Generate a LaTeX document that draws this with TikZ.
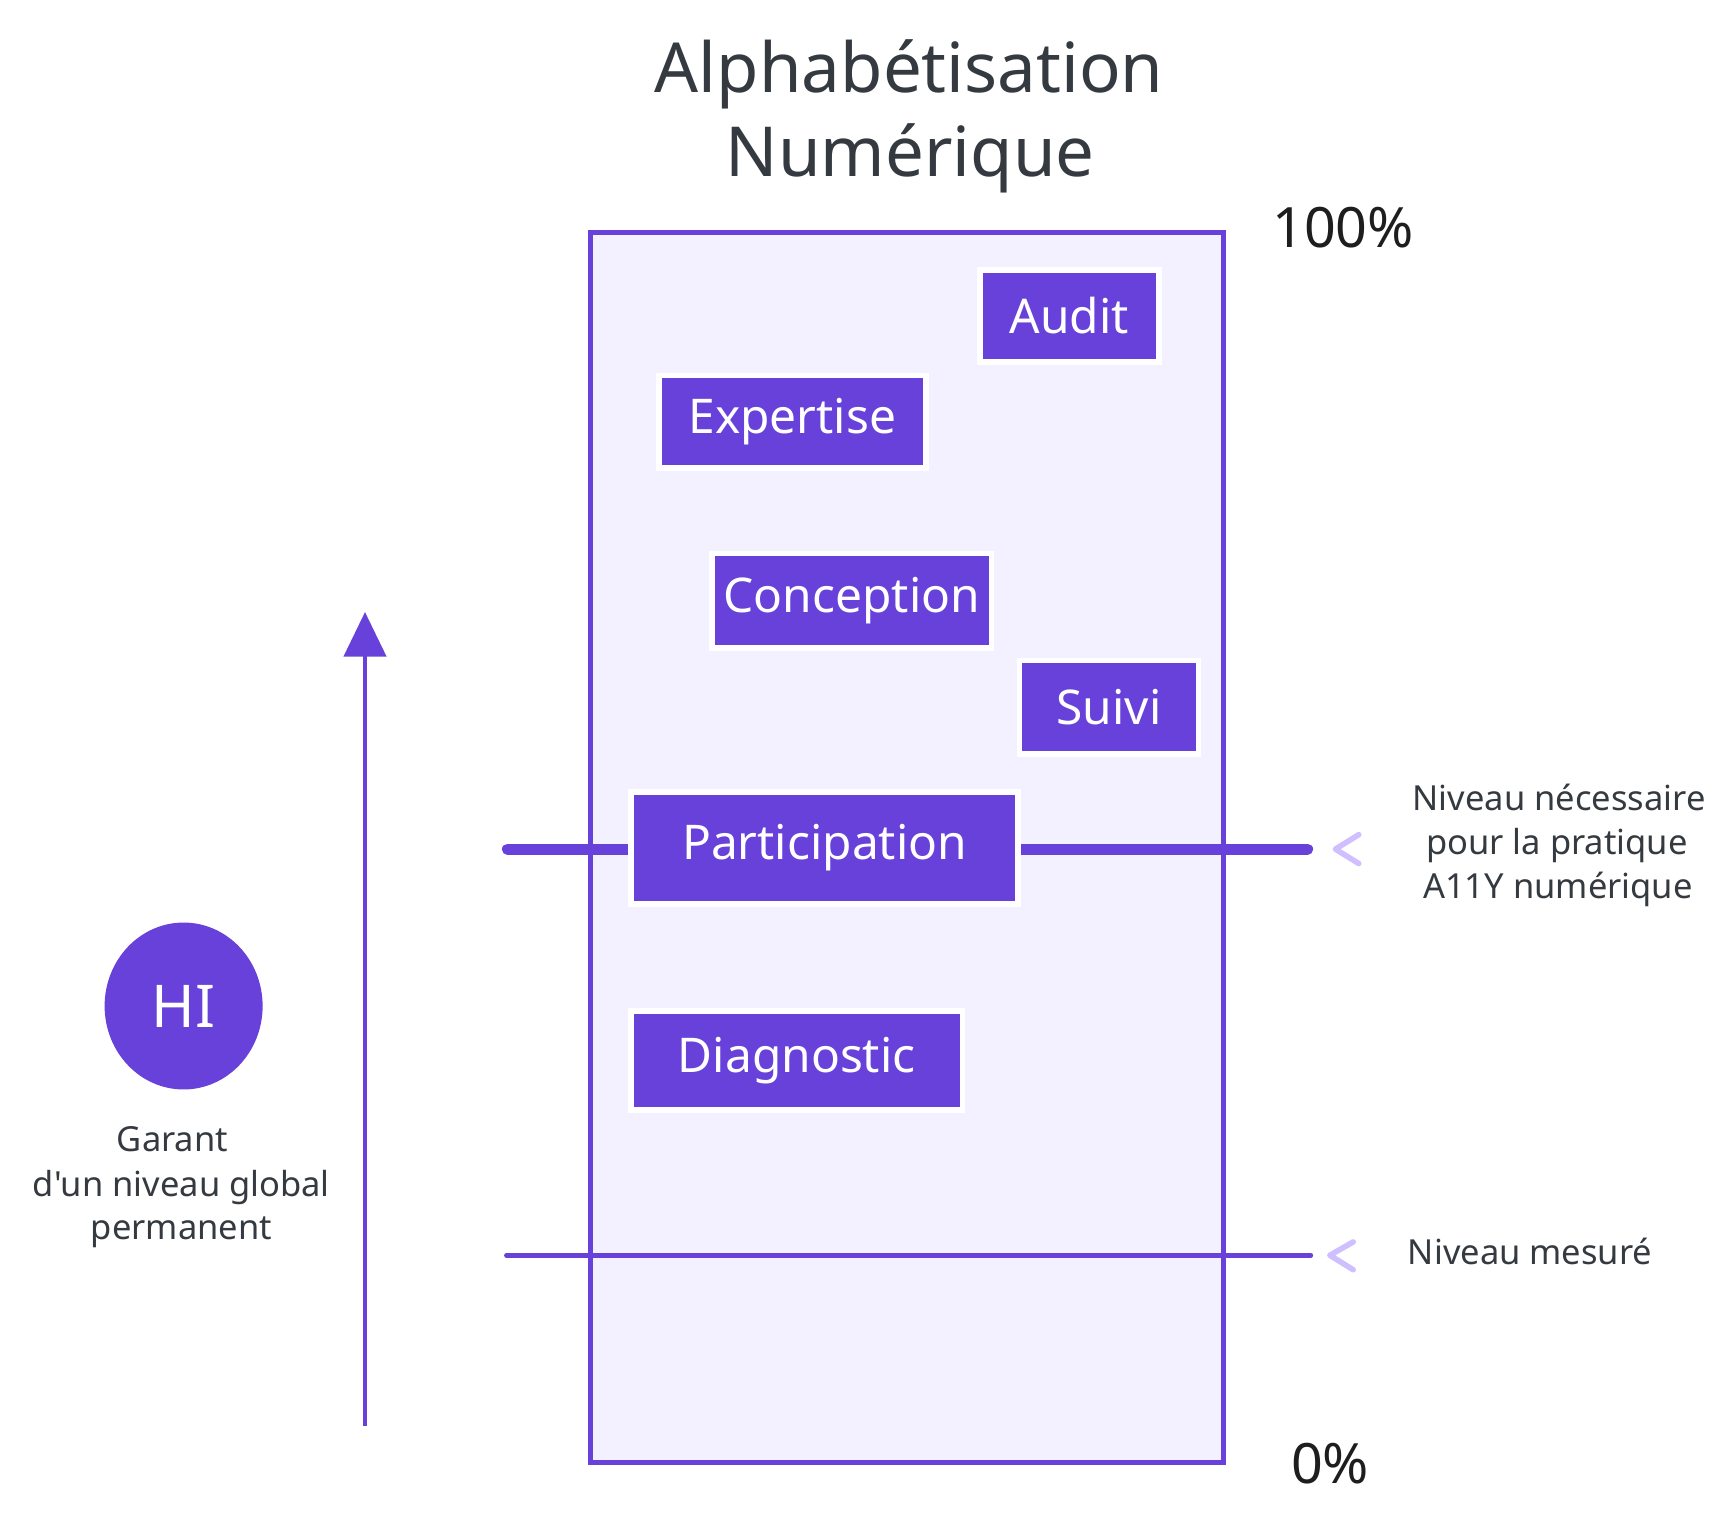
\documentclass[tikz,border=0pt]{standalone}
\usepackage{fontspec}
\setmainfont{Noto Sans}[Ligatures=TeXOff]
\usetikzlibrary{arrows.meta,shapes.geometric}
\definecolor{vio}{HTML}{6741D9}
\definecolor{lav}{HTML}{F3F0FF}
\definecolor{chev}{HTML}{D0BFFF}
\definecolor{ink}{HTML}{343A40}
\definecolor{inkdark}{HTML}{1E1E1E}
\begin{document}
\begin{tikzpicture}[x=1pt,y=-1pt,
  lvlbox/.style={fill=vio, draw=white, line width=5pt, text=white, inner sep=0pt,
    font=\fontsize{43}{50}\selectfont},
  titletxt/.style={anchor=base, text=ink, inner sep=0pt, font=\fontsize{62}{72}\selectfont},
  pcttxt/.style={anchor=base west, text=inkdark, inner sep=0pt, font=\fontsize{50}{60}\selectfont},
  notetxt/.style={anchor=base, text=ink, inner sep=0pt, font=\fontsize{31}{40}\selectfont},
  chevron/.style={draw=chev, line width=5pt, line cap=round, line join=round},
]
\useasboundingbox (0,0) rectangle (1560,1374);

% title
\node[titletxt] (title1) at (817,83) {Alphabétisation};
\node[titletxt] (title2) at (818,159) {Numérique};

% frame
\node[draw=vio, fill=lav, line width=4.5pt, inner sep=0pt,
      minimum width=568pt, minimum height=1105pt] (frame) at (815,761.5) {};

% percentages
\node[pcttxt] (p100) at (1143,222) {100\%};
\node[pcttxt] (p0) at (1160,1333) {0\%};

% level lines
\coordinate (thickL) at (456,763);
\coordinate (thickR) at (1175,763);
\draw[vio, line width=10pt, line cap=round] (thickL) -- (thickR);
\coordinate (thinL) at (455,1128);
\coordinate (thinR) at (1178,1128);
\draw[vio, line width=4pt, line cap=round] (thinL) -- (thinR);

% chevrons
\draw[chevron] (1221,750) -- (1200,763) -- (1221,776);
\draw[chevron] (1216,1116) -- (1195,1128) -- (1216,1141);

% boxes
\node[lvlbox, minimum width=161pt, minimum height=83pt] (audit) at (961,284) {Audit};
\node[lvlbox, minimum width=240pt, minimum height=83pt] (expertise) at (712,379) {Expertise};
\node[lvlbox, minimum width=251pt, minimum height=85pt] (conception) at (765.5,540) {Conception};
\node[lvlbox, minimum width=161pt, minimum height=84pt] (suivi) at (996.5,635.5) {Suivi};
\node[lvlbox, minimum width=348pt, minimum height=101pt] (participation) at (741,762) {Participation};
\node[lvlbox, minimum width=298pt, minimum height=89pt] (diagnostic) at (716,953) {Diagnostic};

% right notes
\node[notetxt] (need1) at (1401,728) {Niveau nécessaire};
\node[notetxt] (need2) at (1399,768) {pour la pratique};
\node[notetxt] (need3) at (1400,807) {A11Y numérique};
\node[notetxt, anchor=base west] (measured) at (1265,1136) {Niveau mesuré};

% arrow
\coordinate (arrowBot) at (328,1281);
\coordinate (arrowTop) at (328,550);
\draw[vio, line width=3pt, -{Triangle[width=38pt,length=40pt]}] (arrowBot) -- (arrowTop);

% HI
\node[ellipse, fill=vio, inner sep=0pt, minimum width=142pt, minimum height=150pt,
      text=white, font=\fontsize{53}{60}\selectfont] (hi) at (165,904) {HI};
\node[notetxt] (gar1) at (155,1035) {Garant};
\node[notetxt] (gar2) at (163,1075) {d'un niveau global};
\node[notetxt] (gar3) at (163,1114) {permanent};
\end{tikzpicture}
\end{document}
